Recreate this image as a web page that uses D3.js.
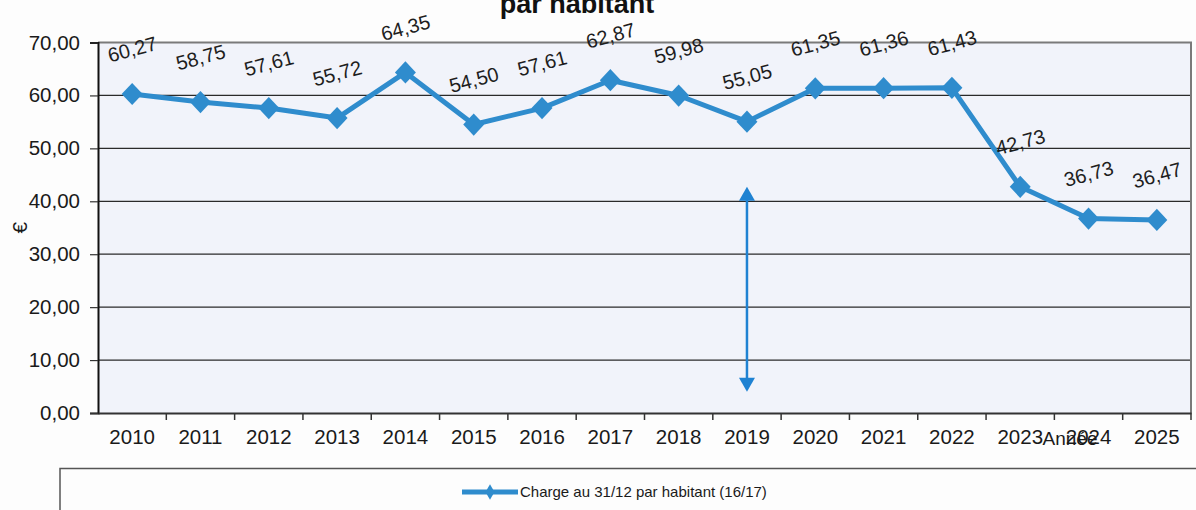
<!DOCTYPE html>
<html>
<head>
<meta charset="utf-8">
<script src="https://cdn.jsdelivr.net/npm/d3@7"></script>
<style>
  body { margin: 0; background: #fdfdfd; }
  svg { display: block; font-family: Arial, "Liberation Sans", sans-serif; }
</style>
</head>
<body>
<div id="chart"></div>
<script>
// data
var years = ["2010", "2011", "2012", "2013", "2014", "2015", "2016", "2017",
             "2018", "2019", "2020", "2021", "2022", "2023", "2024", "2025"];
var values = [60.27, 58.75, 57.61, 55.72, 64.35, 54.50, 57.61, 62.87,
              59.98, 55.05, 61.35, 61.36, 61.43, 42.73, 36.73, 36.47];
var yTicks = [0, 10, 20, 30, 40, 50, 60, 70];
var seriesName = "Charge au 31/12 par habitant (16/17)";
// double arrow drawn on the 2019 column (from / to values)
var arrowYear = "2019";
var arrowRange = [42.73, 4];

(function () {
var W = 1196, H = 510;
var pLeft = 98, pRight = 1191, pTop = 42.5, pBottom = 413;
var blue = "#2f8ccd";

var svg = d3.select("#chart").append("svg")
    .attr("width", W)
    .attr("height", H);

var x = d3.scaleBand().domain(years).range([pLeft, pRight]);
var y = d3.scaleLinear().domain([0, 70]).range([pBottom, pTop]);
var fmt = function (v) { return d3.format(".2f")(v).replace(".", ","); };

// plot background
svg.append("rect")
    .attr("x", pLeft).attr("y", pTop)
    .attr("width", pRight - pLeft).attr("height", pBottom - pTop)
    .attr("fill", "#f1f3fa");

// grid
svg.append("g")
    .selectAll("line")
    .data(yTicks.filter(function (d) { return d > 0 && d < 70; }))
    .enter().append("line")
    .attr("x1", pLeft).attr("x2", pRight)
    .attr("y1", function (d) { return y(d); })
    .attr("y2", function (d) { return y(d); })
    .attr("stroke", "#2a2a2a")
    .attr("stroke-width", 1.2);

// top and right frame
svg.append("path")
    .attr("d", "M" + pLeft + "," + y(70) + "H" + pRight + "V" + pBottom)
    .attr("fill", "none")
    .attr("stroke", "#7a7a7a")
    .attr("stroke-width", 2);

// y axis
var yAxis = svg.append("g")
    .attr("transform", "translate(" + pLeft + ",0)")
    .call(d3.axisLeft(y).tickValues(yTicks).tickFormat(fmt).tickSize(8).tickPadding(10));
yAxis.select(".domain").attr("stroke", "#111").attr("stroke-width", 2);
yAxis.selectAll(".tick line").attr("stroke", "#333").attr("stroke-width", 1.2);
yAxis.selectAll("text").attr("font-size", 20.5).attr("fill", "#1a1a1a")
    .attr("font-family", "Arial, 'Liberation Sans', sans-serif");

// x axis with ticks between categories
var xAxis = svg.append("g")
    .attr("transform", "translate(0," + pBottom + ")")
    .call(d3.axisBottom(x).tickSize(0).tickPadding(16));
xAxis.select(".domain").attr("stroke", "#333").attr("stroke-width", 2);
xAxis.selectAll("text").attr("font-size", 20.5).attr("fill", "#1a1a1a")
    .attr("font-family", "Arial, 'Liberation Sans', sans-serif");
xAxis.selectAll("line.sep")
    .data(years.slice(1).concat(["end"]))
    .enter().append("line")
    .attr("class", "sep")
    .attr("x1", function (d, i) { return x(years[0]) + (i + 1) * x.step(); })
    .attr("x2", function (d, i) { return x(years[0]) + (i + 1) * x.step(); })
    .attr("y1", 0).attr("y2", 7)
    .attr("stroke", "#333").attr("stroke-width", 1.5);

// axis titles
svg.append("text")
    .attr("transform", "translate(27," + y(35) + ") rotate(-90)")
    .attr("text-anchor", "middle")
    .attr("font-size", 21)
    .attr("fill", "#1a1a1a")
    .text("€");

svg.append("text")
    .attr("x", 1070).attr("y", 445)
    .attr("text-anchor", "middle")
    .attr("font-size", 19)
    .attr("fill", "#1a1a1a")
    .text("Année");

// title (only the bottom line is visible in the scan)
svg.append("text")
    .attr("x", 577).attr("y", 13)
    .attr("text-anchor", "middle")
    .attr("font-size", 27)
    .attr("font-weight", "bold")
    .attr("fill", "#111")
    .text("par habitant");

// series line
var cx = function (d, i) { return x(years[i]) + x.bandwidth() / 2; };
var line = d3.line()
    .x(function (d, i) { return cx(d, i); })
    .y(function (d) { return y(d); });

svg.append("path")
    .datum(values)
    .attr("d", line)
    .attr("fill", "none")
    .attr("stroke", blue)
    .attr("stroke-width", 5)
    .attr("stroke-linejoin", "round");

var diamond = d3.symbol().type(d3.symbolSquare).size(220);

svg.append("g")
    .selectAll("path")
    .data(values)
    .enter().append("path")
    .attr("d", diamond)
    .attr("transform", function (d, i) {
        return "translate(" + cx(d, i) + "," + y(d) + ") scale(1,1.06) rotate(45)";
    })
    .attr("fill", blue);

// value labels, slanted as in the source
svg.append("g")
    .selectAll("text")
    .data(values)
    .enter().append("text")
    .attr("transform", function (d, i) {
        return "translate(" + (cx(d, i) + 2) + "," + (y(d) - 38) + ") rotate(-15)";
    })
    .attr("text-anchor", "middle")
    .attr("font-size", 20)
    .attr("fill", "#1e1e1e")
    .text(fmt);

// vertical double arrow
var ax = x(arrowYear) + x.bandwidth() / 2;
var a0 = y(arrowRange[0]), a1 = y(arrowRange[1]);
svg.append("line")
    .attr("x1", ax).attr("x2", ax)
    .attr("y1", a0 + 10).attr("y2", a1 - 10)
    .attr("stroke", "#1f82d2")
    .attr("stroke-width", 2.5);
svg.append("path")
    .attr("d", "M" + ax + "," + a0 + "l-8,14h16z")
    .attr("fill", "#1f82d2");
svg.append("path")
    .attr("d", "M" + ax + "," + a1 + "l-8,-14h16z")
    .attr("fill", "#1f82d2");

// legend box
svg.append("path")
    .attr("d", "M60," + (H + 5) + "V468.5H" + (W + 5))
    .attr("fill", "none")
    .attr("stroke", "#555")
    .attr("stroke-width", 1.5);

var lg = svg.append("g").attr("transform", "translate(462,492)");
lg.append("line")
    .attr("x1", 0).attr("x2", 56)
    .attr("stroke", blue).attr("stroke-width", 5);
lg.append("path")
    .attr("d", d3.symbol().type(d3.symbolDiamond).size(70))
    .attr("transform", "translate(28,0)")
    .attr("fill", blue);
lg.append("text")
    .attr("x", 58).attr("y", 5)
    .attr("font-size", 15)
    .attr("fill", "#1a1a1a")
    .text(seriesName);
})();
</script>
</body>
</html>
